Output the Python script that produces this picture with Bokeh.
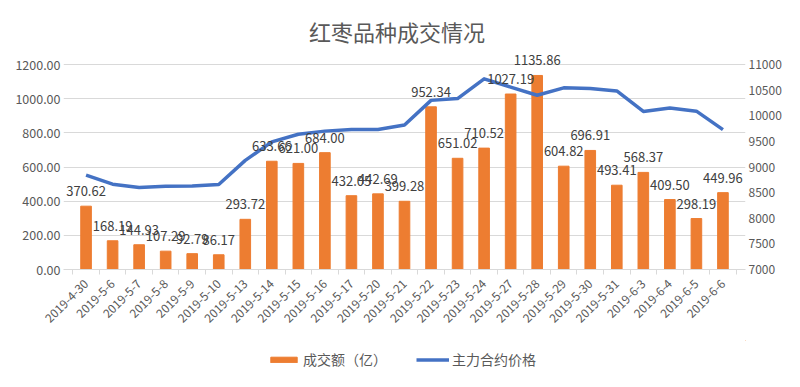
from bokeh.plotting import figure
from bokeh.layouts import column
from bokeh.models import (Range1d, LinearAxis, FixedTicker, LabelSet, Label,
                          NumeralTickFormatter, Legend, LegendItem, ColumnDataSource)
from bokeh.core.properties import value
from bokeh.embed import file_html
from bokeh.resources import INLINE
import math

dates = ["2019-4-30", "2019-5-6", "2019-5-7", "2019-5-8", "2019-5-9", "2019-5-10",
         "2019-5-13", "2019-5-14", "2019-5-15", "2019-5-16", "2019-5-17", "2019-5-20",
         "2019-5-21", "2019-5-22", "2019-5-23", "2019-5-24", "2019-5-27", "2019-5-28",
         "2019-5-29", "2019-5-30", "2019-5-31", "2019-6-3", "2019-6-4", "2019-6-5",
         "2019-6-6"]
volume = [370.62, 168.19, 144.93, 107.29, 92.79, 86.17, 293.72, 633.66, 621.00,
          684.00, 432.05, 442.69, 399.28, 952.34, 651.02, 710.52, 1027.19, 1135.86,
          604.82, 696.91, 493.41, 568.37, 409.50, 298.19, 449.96]
price = [8840, 8665, 8600, 8625, 8630, 8660, 9130, 9490, 9640, 9700, 9730, 9730,
         9820, 10300, 10335, 10720, 10560, 10400, 10545, 10530, 10485, 10085,
         10150, 10090, 9730]
left_ticks = [0, 200, 400, 600, 800, 1000, 1200]
right_ticks = [7000, 7500, 8000, 8500, 9000, 9500, 10000, 10500, 11000]
title_text = "红枣品种成交情况"
bar_name = "成交额（亿）"
line_name = "主力合约价格"

FONT = "Noto Sans CJK SC"
GRAY = "#595959"
ORANGE = "#ED7D31"
BLUE = "#4472C4"

# ---- layout (pixels) ----
W, H_MAIN, H_LEG = 784, 340, 31
FRAME_L, FRAME_R = 63, 36          # borders of the plot frame
AXIS_Y = 269                       # pixel row of the 0 line
GRID_H = 205                       # pixels from 0 to the top tick
PAD = 0.35                         # category padding at both ends
n = len(dates)
frame_w = W - FRAME_L - FRAME_R
catw = frame_w / (n + 2 * PAD)

# frame spans from the canvas top down to the x axis, so value labels
# and the title are never clipped
left_top = left_ticks[-1] * AXIS_Y / GRID_H
right_top = right_ticks[0] + (right_ticks[-1] - right_ticks[0]) * AXIS_Y / GRID_H

centers = [i + 0.5 for i in range(n)]
bounds = list(range(n + 1))

src = ColumnDataSource(dict(x=centers, v=volume, p=price,
                            lab=["%.2f" % x for x in volume]))

p = figure(width=W, height=H_MAIN, x_range=Range1d(-PAD, n + PAD),
           y_range=Range1d(0, left_top),
           output_backend="svg", toolbar_location=None,
           min_border_left=FRAME_L, min_border_right=FRAME_R, min_border_top=0,
           min_border_bottom=H_MAIN - AXIS_Y)
p.extra_y_ranges = {"right": Range1d(right_ticks[0], right_top)}

p.outline_line_color = None
p.xgrid.grid_line_color = None
p.ygrid.grid_line_color = "#D9D9D9"
p.ygrid.ticker = FixedTicker(ticks=left_ticks)

bars = p.vbar(x="x", top="v", width=0.4, source=src, color=ORANGE)
line = p.line(x="x", y="p", source=src, y_range_name="right",
              line_color=BLUE, line_width=3.5, line_join="round")
labels = LabelSet(x="x", y="v", text="lab", source=src, text_align="center",
                  text_baseline="middle", y_offset=15, text_font=value(FONT),
                  text_font_size="13px", text_color="#404040")
p.add_layout(labels)

# title (centred at page x=398, y=30)
title_x = -PAD + (398 - FRAME_L) / catw
title_y = left_ticks[-1] * (AXIS_Y - 30) / GRID_H
p.add_layout(Label(x=title_x, y=title_y, text=title_text, text_align="center",
                   text_baseline="middle", text_font=FONT,
                   text_font_size="22px", text_color=GRAY))

# left axis
ya = p.yaxis[0]
ya.ticker = FixedTicker(ticks=left_ticks)
ya.formatter = NumeralTickFormatter(format="0.00")
ya.axis_line_color = None
ya.major_tick_line_color = None
ya.major_tick_out = 0
ya.minor_tick_line_color = None
ya.major_label_standoff = 3
ya.major_label_text_font = FONT
ya.major_label_text_font_size = "12.5px"
ya.major_label_text_color = GRAY

ra = LinearAxis(y_range_name="right", ticker=FixedTicker(ticks=right_ticks))
ra.formatter = NumeralTickFormatter(format="0")
ra.axis_line_color = None
ra.major_tick_line_color = None
ra.major_tick_out = 0
ra.minor_tick_line_color = None
ra.major_label_standoff = 3
ra.major_label_text_font = FONT
ra.major_label_text_font_size = "12px"
ra.major_label_text_color = GRAY
p.add_layout(ra, "right")

xa = p.xaxis[0]
xa.ticker = FixedTicker(ticks=centers, minor_ticks=bounds)
xa.major_label_overrides = {c: d for c, d in zip(centers, dates)}
xa.axis_line_color = "#D9D9D9"
xa.major_tick_line_color = None
xa.major_tick_out = 0
xa.minor_tick_line_color = "#D9D9D9"
xa.minor_tick_in = 0
xa.minor_tick_out = 5
xa.major_label_orientation = math.pi / 4
xa.major_label_text_font = FONT
xa.major_label_text_font_size = "12px"
xa.major_label_text_color = GRAY
xa.major_label_standoff = 7

# legend strip below the chart
lf = figure(width=W, height=H_LEG, x_range=Range1d(0, 1), y_range=Range1d(0, 1),
            output_backend="svg", toolbar_location=None,
            x_axis_location=None, y_axis_location=None,
            min_border_left=0, min_border_right=0, min_border_top=0,
            min_border_bottom=0)
lf.outline_line_color = None
lf.xgrid.visible = False
lf.ygrid.visible = False
lbar = lf.vbar(x=[5], top=[5], bottom=[4], width=0.4, color=ORANGE)
lline = lf.line(x=[5, 6], y=[5, 5], line_color=BLUE, line_width=3.5)
legend = Legend(items=[LegendItem(label=bar_name, renderers=[lbar]),
                       LegendItem(label=line_name, renderers=[lline])],
                orientation="horizontal", location=(267 - FRAME_L, 2))
legend.label_text_font = FONT
legend.label_text_font_size = "14px"
legend.label_text_color = GRAY
legend.border_line_color = None
legend.background_fill_alpha = 0
legend.glyph_width = 33
legend.glyph_height = 7
legend.label_standoff = 3
legend.spacing = 29
legend.padding = 0
legend.margin = 0
lf.add_layout(legend)

open("out.html", "w").write(file_html(column(p, lf), INLINE))
